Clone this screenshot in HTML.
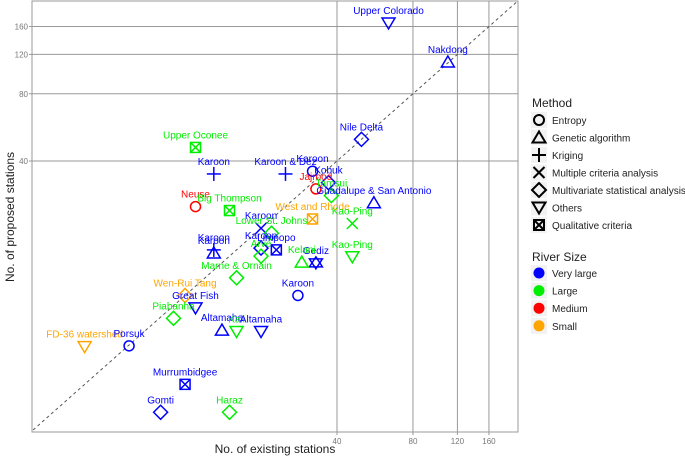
<!DOCTYPE html>
<html><head><meta charset="utf-8"><style>
body{margin:0;background:#fff;}
svg{display:block;font-family:"Liberation Sans",Arial,sans-serif;}
</style></head><body>
<svg id="chart" width="685" height="458" viewBox="0 0 685 458"></svg>
<script>
const labels=["Upper Colorado","Nakdong","Nile Delta","Karoon","Karoon & Dez","Kobuk","Jajrood","Tamsui","Guadalupe & San Antonio","West and Rhode","Kao-Ping","Kao-Ping","Gediz","Kelani","Upper Oconee","Karoon","Neuse","Big Thompson","Karoon","Lower St. Johns","Karoon","Karoon","Limpopo","Karoon","Arve","Marne & Ornain","Karoon","Wen-Rui Tang","Great Fish","Piabanha","Altamaha","Kali","Altamaha","FD-36 watershed","Porsuk","Murrumbidgee","Gomti","Haraz"];
const existing=[64,110,50,32,25,37,33,38,56,32,46,46,33,29,11,13,11,15,20,22,13,13,23,20,20,16,28,10,11,9,14,16,20,4,6,10,8,15];
const proposed=[166,111,50,36,35,32,30,28,26,22,21,14.9,14,14.1,46,35,25,24,20,19,15.5,16.0,16,16.3,15,12,10,10,8.8,7.9,7,6.9,6.9,5.9,5.95,4,3,3];
const methods=["others","ga","msa","entropy","kriging","msa","entropy","msa","ga","qual","mca","others","star","ga","qual","kriging","entropy","qual","mca","msa","ga","kriging","qual","msa","msa","msa","entropy","msa","others","msa","ga","others","others","others","entropy","qual","msa","msa"];
const sizes=["VL","VL","VL","VL","VL","VL","M","L","VL","S","L","L","VL","L","L","VL","M","L","VL","L","VL","VL","VL","VL","L","L","VL","S","VL","L","VL","L","VL","S","VL","VL","VL","L"];
const gridTicks=[40,80,120,160];
const methodNames=["Entropy","Genetic algorithm","Kriging","Multiple criteria analysis","Multivariate statistical analysis","Others","Qualitative criteria"];
const methodKeys=["entropy","ga","kriging","mca","msa","others","qual"];
const sizeNames=["Very large","Large","Medium","Small"];
const sizeKeys=["VL","L","M","S"];

const colors={VL:"#0000ff",L:"#00ee00",M:"#ff0000",S:"#ffa500"};
const NS="http://www.w3.org/2000/svg";
const svg=document.getElementById("chart");
const L=32,R=518,T=1,B=432;
const xs=v=>337+109.6*Math.log(v/40);
const ys=v=>161-97*Math.log(v/40);
function el(tag,attrs,parent){const e=document.createElementNS(NS,tag);for(const k in attrs)e.setAttribute(k,attrs[k]);(parent||svg).appendChild(e);return e;}

el("rect",{x:L,y:T,width:R-L,height:B-T,fill:"#fff",stroke:"#999","stroke-width":1});
gridTicks.forEach(t=>{
  const gx=el("line",{x1:xs(t),x2:xs(t),y1:T,y2:B,stroke:"#999","stroke-width":1});
  
  
  const gy=el("line",{x1:L,x2:R,y1:ys(t),y2:ys(t),stroke:"#999","stroke-width":1});
  
  
  el("line",{x1:xs(t),x2:xs(t),y1:B,y2:B+3,stroke:"#999"});
  el("line",{x1:L-3,x2:L,y1:ys(t),y2:ys(t),stroke:"#999"});
  const tx=el("text",{x:xs(t),y:B+12,"text-anchor":"middle","font-size":8,fill:"#777"});tx.textContent=t;
  
  
  const ty=el("text",{x:L-4,y:ys(t)+3,"text-anchor":"end","font-size":8,fill:"#777"});ty.textContent=t;
  
  
});
const diag=el("line",{x1:xs(2.5),y1:ys(2.5),x2:xs(208),y2:ys(208),stroke:"#555","stroke-width":1,"stroke-dasharray":"3,3"});


const xt=el("text",{x:275,y:453,"text-anchor":"middle","font-size":12,fill:"#222"});xt.textContent="No. of existing stations";


const yt=el("text",{x:0,y:0,"text-anchor":"middle","font-size":12,fill:"#222",transform:"translate(14,217) rotate(-90)"});yt.textContent="No. of proposed stations";



function shape(m,cx,cy,c,g,sw){
  const s={fill:"none",stroke:c,"stroke-width":sw||1.5};
  const a=(tag,o)=>el(tag,Object.assign({},s,o),g);
  if(m==="entropy")a("circle",{cx,cy,r:5});
  else if(m==="ga")a("polygon",{points:`${cx},${cy-6} ${cx+6.5},${cy+5} ${cx-6.5},${cy+5}`});
  else if(m==="others")a("polygon",{points:`${cx},${cy+6} ${cx+6.5},${cy-5} ${cx-6.5},${cy-5}`});
  else if(m==="star"){a("polygon",{points:`${cx},${cy-6} ${cx+6.5},${cy+4} ${cx-6.5},${cy+4}`});a("polygon",{points:`${cx},${cy+6} ${cx+6.5},${cy-4} ${cx-6.5},${cy-4}`});}
  else if(m==="kriging"){a("line",{x1:cx-7,x2:cx+7,y1:cy,y2:cy});a("line",{x1:cx,x2:cx,y1:cy-7,y2:cy+7});}
  else if(m==="mca"){a("line",{x1:cx-5.5,x2:cx+5.5,y1:cy-5.5,y2:cy+5.5});a("line",{x1:cx-5.5,x2:cx+5.5,y1:cy+5.5,y2:cy-5.5});}
  else if(m==="msa")a("polygon",{points:`${cx},${cy-7} ${cx+7},${cy} ${cx},${cy+7} ${cx-7},${cy}`});
  else if(m==="qual"){a("rect",{x:cx-5,y:cy-5,width:10,height:10});a("line",{x1:cx-5,x2:cx+5,y1:cy-5,y2:cy+5});a("line",{x1:cx-5,x2:cx+5,y1:cy+5,y2:cy-5});}
}
labels.forEach((lab,i)=>{
  const cx=xs(existing[i]),cy=ys(proposed[i]),c=colors[sizes[i]];
  const g=el("g",{});
  
  
  shape(methods[i],cx,cy,c,g);
  const t=el("text",{x:cx,y:cy-9,"text-anchor":"middle","font-size":10,fill:c},g);t.textContent=lab;
});

const lt=el("text",{x:532,y:107,"font-size":12,fill:"#222"});lt.textContent="Method";


methodNames.forEach((n,i)=>{
  const y=120+i*17.5;
  const g=el("g",{});
  
  
  el("rect",{x:531,y:y-8,width:16,height:16,fill:"#f2f2f2"},g);
  shape(methodKeys[i],539,y,"#000",g,2);
  const t=el("text",{x:552,y:y+4,"font-size":10,fill:"#222"},g);t.textContent=n;
});
const st=el("text",{x:532,y:261,"font-size":12,fill:"#222"});st.textContent="River Size";


sizeNames.forEach((n,i)=>{
  const y=273+i*17.6;
  const g=el("g",{});
  
  
  el("rect",{x:531,y:y-8,width:16,height:16,fill:"#f2f2f2"},g);
  el("circle",{cx:539,cy:y,r:5.5,fill:colors[sizeKeys[i]]},g);
  const t=el("text",{x:552,y:y+4,"font-size":10,fill:"#222"},g);t.textContent=n;
});
</script>
</body></html>
